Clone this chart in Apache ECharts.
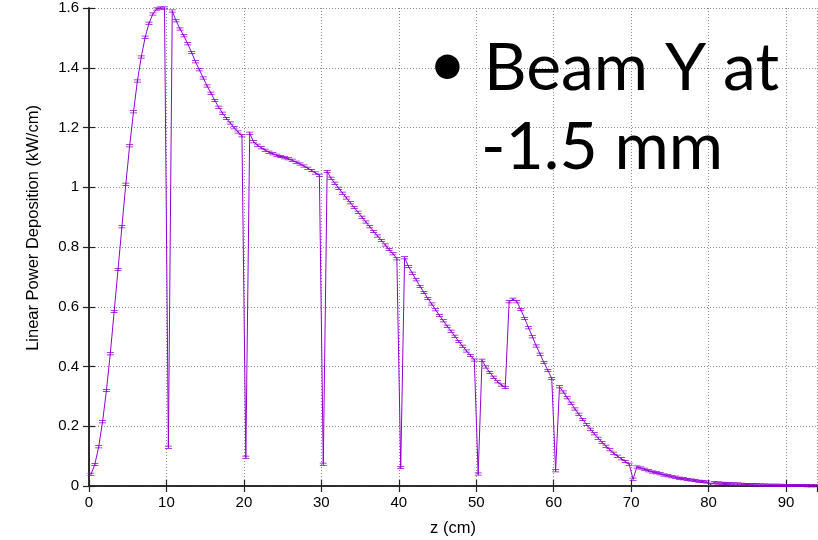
<!DOCTYPE html>
<html>
<head>
<meta charset="utf-8">
<script src="https://cdn.jsdelivr.net/npm/echarts@6/dist/echarts.min.js"></script>
<style>html,body{margin:0;padding:0;background:#fff}#c{width:818px;height:540px}</style>
</head>
<body>
<div id="c"></div>
<script>
const zCm = [
 0.25,0.75,1.25,1.75,2.25,2.75,3.25,3.75,4.25,4.75,5.25,5.75,6.25,6.75,7.25,7.75,8.25,8.75,9.25,9.75,
 10.25,10.75,11.25,11.75,12.25,12.75,13.25,13.75,14.25,14.75,15.25,15.75,16.25,16.75,17.25,17.75,18.25,18.75,19.25,19.75,
 20.25,20.75,21.25,21.75,22.25,22.75,23.25,23.75,24.25,24.75,25.25,25.75,26.25,26.75,27.25,27.75,28.25,28.75,29.25,29.75,
 30.25,30.75,31.25,31.75,32.25,32.75,33.25,33.75,34.25,34.75,35.25,35.75,36.25,36.75,37.25,37.75,38.25,38.75,39.25,39.75,
 40.25,40.75,41.25,41.75,42.25,42.75,43.25,43.75,44.25,44.75,45.25,45.75,46.25,46.75,47.25,47.75,48.25,48.75,49.25,49.75,
 50.25,50.75,51.25,51.75,52.25,52.75,53.25,53.75,54.25,54.75,55.25,55.75,56.25,56.75,57.25,57.75,58.25,58.75,59.25,59.75,
 60.25,60.75,61.25,61.75,62.25,62.75,63.25,63.75,64.25,64.75,65.25,65.75,66.25,66.75,67.25,67.75,68.25,68.75,69.25,69.75,
 70.25,70.75,71.25,71.75,72.25,72.75,73.25,73.75,74.25,74.75,75.25,75.75,76.25,76.75,77.25,77.75,78.25,78.75,79.25,79.75,
 80.25,80.75,81.25,81.75,82.25,82.75,83.25,83.75,84.25,84.75,85.25,85.75,86.25,86.75,87.25,87.75,88.25,88.75,89.25,89.75,
 90.25,90.75,91.25,91.75,92.25,92.75,93.25,93.75
];
const powerKWcm = [
 0.039,0.072,0.131,0.215,0.32,0.443,0.584,0.725,0.868,1.01,1.139,1.253,1.356,1.436,1.502,1.549,1.58,1.597,1.6,1.6,
 0.13,1.59,1.557,1.53,1.507,1.48,1.451,1.42,1.393,1.366,1.339,1.315,1.29,1.268,1.248,1.23,1.215,1.199,1.185,1.172,
 0.096,1.181,1.152,1.141,1.132,1.124,1.117,1.112,1.107,1.103,1.099,1.095,1.09,1.084,1.078,1.071,1.064,1.056,1.048,1.04,
 0.073,1.053,1.03,1.013,0.997,0.98,0.964,0.948,0.932,0.916,0.9,0.884,0.868,0.852,0.837,0.822,0.807,0.792,0.777,0.761,
 0.062,0.764,0.735,0.712,0.69,0.668,0.648,0.628,0.609,0.59,0.571,0.553,0.535,0.518,0.501,0.484,0.468,0.452,0.437,0.422,
 0.04,0.421,0.398,0.38,0.364,0.349,0.338,0.33,0.617,0.625,0.617,0.591,0.561,0.53,0.5,0.469,0.441,0.413,0.387,0.36,
 0.051,0.332,0.315,0.295,0.277,0.258,0.24,0.223,0.206,0.19,0.175,0.16,0.146,0.133,0.121,0.11,0.1,0.091,0.082,0.073,
 0.023,0.064,0.06,0.056,0.051,0.047,0.044,0.041,0.037,0.034,0.031,0.029,0.026,0.024,0.022,0.02,0.018,0.016,0.015,0.013,
 0.006,0.011,0.01,0.009,0.008,0.0075,0.007,0.0063,0.0057,0.0052,0.0047,0.0043,0.0039,0.0035,0.0032,0.0029,0.0026,0.0024,0.0022,0.002,
 0.0018,0.0016,0.0015,0.0014,0.0013,0.0012,0.0011,0.001
];
const xAxisTitle = 'z (cm)';
const yAxisTitle = 'Linear Power Deposition (kW/cm)';
const noteLines = ['Beam Y at', '-1.5 mm'];

const points = zCm.map((z, i) => [z, powerKWcm[i]]);
const tickFont = { fontFamily: 'Liberation Sans, Arial, sans-serif', fontSize: 15, color: '#000' };
const nameFont = { fontFamily: 'Liberation Sans, Arial, sans-serif', fontSize: 16.5, color: '#000' };
const frame = { show: true, lineStyle: { color: '#222', width: 1.5 } };
const gridLine = { show: true, lineStyle: { color: '#8a8a8a', width: 1, type: [1, 2] } };
const inTick = { show: true, inside: true, length: 6, lineStyle: { color: '#222', width: 1.2 } };

const chart = echarts.init(document.getElementById('c'), null, { renderer: 'canvas' });
chart.setOption({
  animation: false,
  backgroundColor: '#fff',
  grid: { left: 89, right: 1, top: 8, bottom: 54, containLabel: false, outerBoundsMode: 'none' },
  xAxis: [
    { type: 'value', min: 0, max: 94, interval: 10, position: 'bottom',
      axisLine: frame, axisTick: inTick, splitLine: gridLine,
      axisLabel: Object.assign({ margin: 9, showMaxLabel: false }, tickFont),
      name: xAxisTitle, nameLocation: 'middle', nameGap: 34,
      nameTextStyle: nameFont },
    { type: 'value', min: 0, max: 94, interval: 10, position: 'top',
      axisLine: frame, axisTick: inTick, splitLine: { show: false }, axisLabel: { show: false } }
  ],
  yAxis: [
    { type: 'value', min: 0, max: 1.6, interval: 0.2, position: 'left',
      axisLine: frame, axisTick: inTick, splitLine: gridLine,
      axisLabel: Object.assign({ margin: 10 }, tickFont),
      name: yAxisTitle, nameLocation: 'middle', nameGap: 47,
      nameTextStyle: Object.assign({ padding: [0, 0, 0, 38] }, nameFont) },
    { type: 'value', min: 0, max: 1.6, interval: 0.2, position: 'right',
      axisLine: frame, axisTick: inTick, splitLine: { show: false }, axisLabel: { show: false } }
  ],
  series: [{
    type: 'line',
    data: points,
    xAxisIndex: 0, yAxisIndex: 0,
    showAllSymbol: true,
    symbol: 'path://M0,0L8,0L8,1L0,1Z M0,3L8,3L8,4L0,4Z M3.5,0L4.5,0L4.5,4L3.5,4Z',
    symbolSize: [7, 3],
    itemStyle: { color: '#9400d3' },
    lineStyle: { color: '#9400d3', width: 1 },
    clip: true,
    z: 3
  }],
  graphic: [
    { type: 'text', x: 447.5, y: 65, z: 10,
      style: { text: '•', font: '66px Lato', fill: '#000', align: 'center', verticalAlign: 'middle' } },
    { type: 'text', x: 484, y: 68.5, z: 10,
      style: { text: noteLines[0], font: '66px Lato', fill: '#000', align: 'left', verticalAlign: 'middle' } },
    { type: 'text', x: 481, y: 148, z: 10,
      style: { text: noteLines[1], font: '66px Lato', fill: '#000', align: 'left', verticalAlign: 'middle' } }
  ]
});
</script>
</body>
</html>
